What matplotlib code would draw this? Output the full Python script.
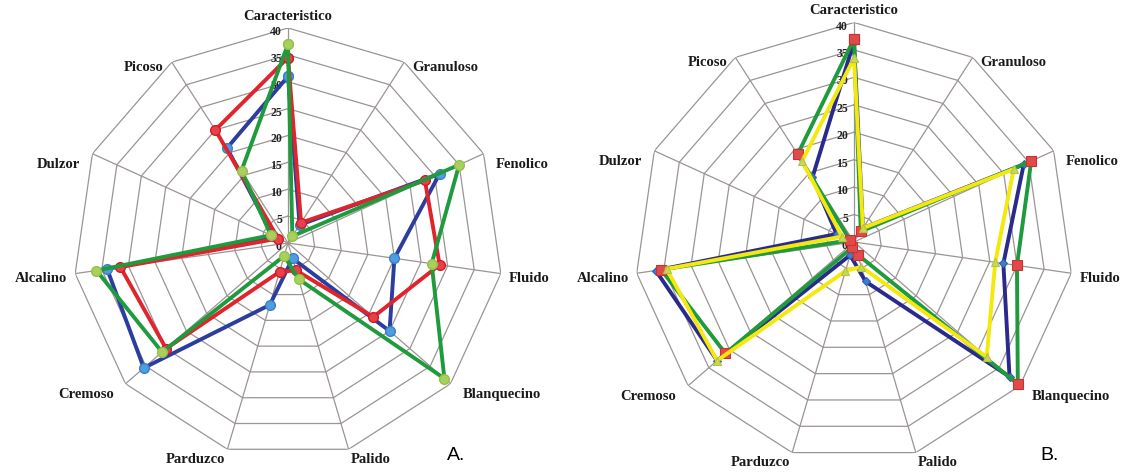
import numpy as np
import matplotlib.pyplot as plt

# sensory attributes, clockwise from the top
categories = ['Caracteristico', 'Granuloso', 'Fenolico', 'Fluido', 'Blanquecino',
              'Palido', 'Parduzco', 'Cremoso', 'Alcalino', 'Dulzor', 'Picoso']
ring_values = [0, 5, 10, 15, 20, 25, 30, 35, 40]

# panel A
a_blue = [31, 4, 31, 20, 25, 3, 12, 35.5, 34, 3, 21]
a_red = [34.5, 4.5, 28, 28.5, 21, 5.3, 5.6, 30, 31.5, 2, 25]
a_green = [37, 1.5, 35, 27, 38.5, 7, 2.5, 31, 36, 3.5, 16]

# panel B
b_navy = [36.5, 3, 34, 27.5, 37.5, 7.5, 2.5, 33, 36.5, 3.5, 14]
b_green = [37, 2.3, 35.5, 30, 39.5, 2.4, 1, 31, 35.5, 0.8, 19]
b_yellow = [33.5, 3, 32, 26, 32, 4.7, 5.5, 33, 34.5, 2.4, 17.5]

W, H = 1123, 472
n = len(categories)
angles = np.linspace(0, 2 * np.pi, n, endpoint=False)
closed = np.append(angles, angles[0])

serif = ['Liberation Serif', 'DejaVu Serif']
grid_col = '#9c9494'


def label_offset(a):
    """Where an attribute name sits next to its outer vertex (pixels)."""
    dx, dy = np.sin(a), np.cos(a)
    side = np.sign(dx)
    if dy > 0.95:
        return 'center', (0, 12)
    if dy < -0.9:
        return ('left' if side > 0 else 'right'), (2 * side, -10)
    ha = 'left' if side > 0 else 'right'
    if 0.3 < abs(dy) < 0.8:
        return ha, (12 * side, -11)
    return ha, (8 * side, -5)


def radar_axes(fig, cx, cy, radius):
    ax = fig.add_axes([(cx - radius) / W, (H - cy - radius) / H,
                       2 * radius / W, 2 * radius / H], projection='polar')
    ax.set_theta_zero_location('N')
    ax.set_theta_direction(-1)
    ax.set_ylim(0, 40)
    ax.grid(False)
    ax.set_xticks([])
    ax.set_yticks([])
    ax.spines['polar'].set_visible(False)
    ax.patch.set_alpha(0)

    # polygon rings and spokes
    for r in ring_values[1:]:
        ax.plot(closed, [r] * len(closed), color=grid_col, lw=0.9, zorder=1)
    for a in angles:
        ax.plot([a, a], [0, 40], color=grid_col, lw=0.9, zorder=1)

    for r in ring_values:
        ax.annotate(str(r), xy=(0, r), xytext=(-6, -4), textcoords='offset pixels',
                    ha='right', va='center', fontsize=8.5, fontweight='bold',
                    family=serif, color='#222222', zorder=2)

    for a, name in zip(angles, categories):
        ha, off = label_offset(a)
        ax.annotate(name, xy=(a, 40), xytext=off, textcoords='offset pixels',
                    ha=ha, va='center', fontsize=10.5, fontweight='bold',
                    family=serif, color='#1a1a1a')
    return ax


def series(ax, vals, line, **mk):
    v = np.append(vals, vals[0])
    ax.plot(closed, v, color=line, lw=2.8, clip_on=False, zorder=3, **mk)


fig = plt.figure(figsize=(W / 100, H / 100), dpi=100)

ax_a = radar_axes(fig, 288, 243, 215)
series(ax_a, a_blue, '#2b3d9e', marker='o', ms=7, mfc='#4d9ee0', mec='#3b7fc4', mew=1)
series(ax_a, a_red, '#e0242c', marker='o', ms=7, mfc='#e8404a', mec='#d01c24', mew=1)
series(ax_a, a_green, '#1f9a3c', marker='o', ms=7, mfc='#a9d05c', mec='#95c04a', mew=1)

ax_b = radar_axes(fig, 854, 242, 219.5)
series(ax_b, b_navy, '#2a2a8c', marker='D', ms=4, mfc='#3a80d2', mec='#2a60b0', mew=0.8)
series(ax_b, b_green, '#1f9a3c', marker='s', ms=6.5, mfc='#e04a4a', mec='#c83232', mew=0.8)
series(ax_b, b_yellow, '#f4e80c', marker='^', ms=5.5, mfc='#c9d65a', mec='#b4c440', mew=0.8)

fig.text(447 / W, 1 - 455 / H, 'A.', fontsize=14, family='Liberation Sans', va='center')
fig.text(1040 / W, 1 - 455 / H, 'B.', fontsize=14, family='Liberation Sans', va='center')

fig.savefig('out.png', dpi=100, facecolor='white')
